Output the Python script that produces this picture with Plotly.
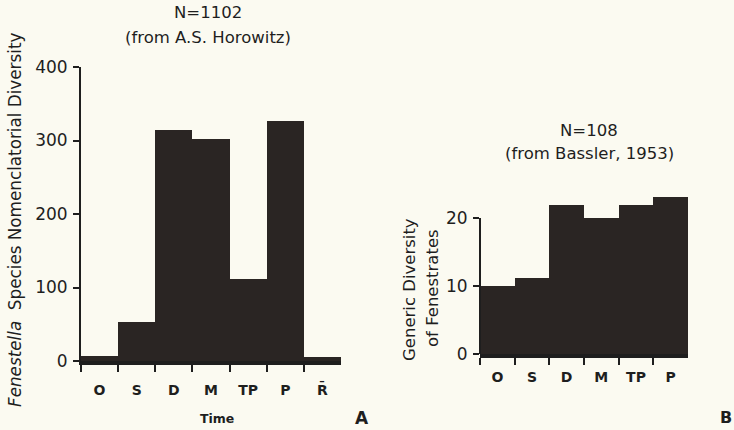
import plotly.graph_objects as go

periods_a = ["O", "S", "D", "M", "TP", "P", "TR"]
species_diversity = [7, 53, 314, 302, 112, 327, 6]
periods_b = ["O", "S", "D", "M", "TP", "P"]
generic_diversity = [10, 11.2, 22, 20, 22, 23.1]
tick_text_a = ["O", "S", "D", "M", "TP", "P", "R̄"]
tick_text_b = ["O", "S", "D", "M", "TP", "P"]

W, H = 734, 430
BAR = "#2a2523"
INK = "#1e1e1e"
BG = "#fbfaf1"
FONT = "DejaVu Sans"

def px(x):
    return x / W

def py(y):
    return (H - y) / H

fig = go.Figure()
fig.add_trace(go.Bar(x=periods_a, y=species_diversity, marker=dict(color=BAR, line=dict(width=0)),
                     xaxis="x", yaxis="y", showlegend=False, hoverinfo="skip"))
fig.add_trace(go.Bar(x=periods_b, y=generic_diversity, marker=dict(color=BAR, line=dict(width=0)),
                     xaxis="x2", yaxis="y2", showlegend=False, hoverinfo="skip"))

def xaxis_style(standoff):
    return dict(type="category", showline=True, linewidth=4, linecolor=INK, ticks="outside",
                tickson="boundaries", ticklen=7, tickwidth=2, tickcolor=INK, showgrid=False,
                zeroline=False, automargin=False,
                tickfont=dict(family=FONT, size=14, color=INK, weight="bold"),
                ticklabelstandoff=standoff)

ycommon = dict(ticks="outside", ticklen=6, tickwidth=1.5, tickcolor=INK, showgrid=False,
               zeroline=False, automargin=False,
               tickfont=dict(family=FONT, size=17, color=INK), ticklabelstandoff=2)

fig.update_layout(
    width=W, height=H, margin=dict(l=0, r=0, t=0, b=0, pad=0), autosize=False,
    paper_bgcolor=BG, plot_bgcolor=BG, bargap=0,
    xaxis=dict(domain=[px(81), px(341)], anchor="y", tickvals=periods_a, ticktext=tick_text_a,
               **xaxis_style(13)),
    yaxis=dict(domain=[py(361), py(67)], anchor="x", range=[0, 400], dtick=100,
               showline=True, linewidth=2, linecolor=INK, **ycommon),
    xaxis2=dict(domain=[px(480), px(688)], anchor="y2", tickvals=periods_b, ticktext=tick_text_b,
                **xaxis_style(7)),
    yaxis2=dict(domain=[py(354), py(354 - 24 * 6.8)], anchor="x2", range=[0, 24],
                tickvals=[0, 10, 20], showline=False, **ycommon),
)

# y-axis line of panel B only up to 20
fig.add_shape(type="line", xref="paper", yref="y2", x0=px(480), x1=px(480), y0=0, y1=20,
              line=dict(color=INK, width=2))

def ann(text, x, y, size=14, bold=False, angle=0):
    fig.add_annotation(text=text, x=px(x), y=py(y), xref="paper", yref="paper",
                       showarrow=False, textangle=angle, xanchor="center", yanchor="middle",
                       font=dict(family=FONT, size=size, color=INK,
                                 weight="bold" if bold else "normal"))

ann("N=1102", 208, 13, size=16.5)
ann("(from A.S. Horowitz)", 208, 38, size=16.5)
ann("N=108", 589, 130, size=16.5)
ann("(from Bassler, 1953)", 589, 153, size=16.5)
ann("<i>Fenestella</i>  Species Nomenclatorial Diversity", 15, 220, size=16.8, angle=-90)
ann("Generic Diversity", 409, 289, size=16.5, angle=-90)
ann("of Fenestrates", 432, 288, size=16.5, angle=-90)
ann("Time", 217, 418, size=12.5, bold=True)
ann("A", 362, 418, size=17, bold=True)
ann("B", 726, 417, size=16, bold=True)

fig.write_html("out.html", config={"displayModeBar": False},
               post_script="document.body.style.margin='0';")
